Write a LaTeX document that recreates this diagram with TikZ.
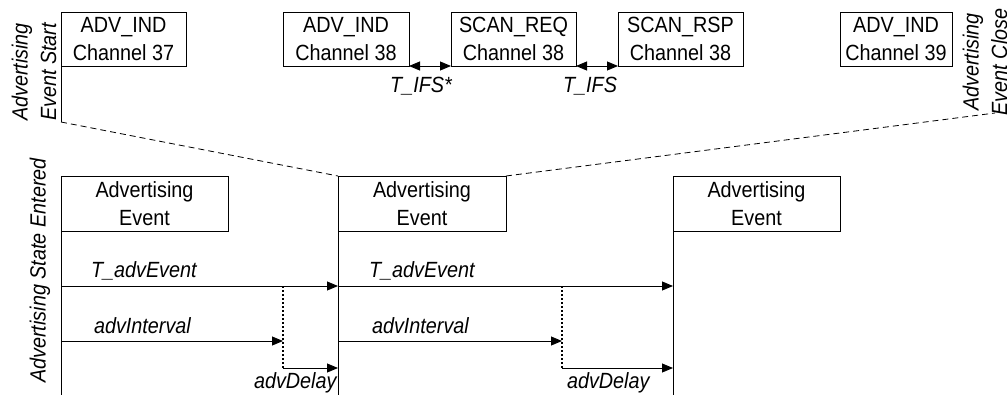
\documentclass[tikz,border=0pt]{standalone}
\usepackage{fontspec}
\setmainfont[FakeStretch=0.9]{Liberation Sans}
\usetikzlibrary{arrows.meta}
\begin{document}
\begin{tikzpicture}[x=1pt,y=-1pt,
  every node/.style={inner sep=0pt, outer sep=0pt},
  txt/.style={font=\fontsize{22}{28.5}\selectfont},
  itl/.style={font=\fontsize{22}{28.5}\selectfont\itshape},
  pkt/.style={draw, line width=0.9pt, txt, align=center, anchor=north west, minimum height=54pt},
  evbox/.style={draw, line width=0.9pt, txt, align=center, anchor=north west, minimum height=55pt},
  conn/.style={line width=0.9pt},
  arr/.style={conn, -{Triangle[length=11pt,width=9pt]}},
  darr/.style={conn, {Triangle[length=11pt,width=9pt]}-{Triangle[length=11pt,width=9pt]}},
  dotv/.style={line width=1.6pt, dash pattern=on 2pt off 2pt},
  dashl/.style={line width=0.8pt, dash pattern=on 6pt off 4pt},
]
\useasboundingbox (0,0) rectangle (1007,394);
\clip (0,0) rectangle (1007,394);

% top packets
\node[pkt, minimum width=125pt] (p1) at (61,12) {ADV\_IND\\Channel 37};
\node[pkt, minimum width=126pt] (p2) at (283,12) {ADV\_IND\\Channel 38};
\node[pkt, minimum width=125pt] (p3) at (451,12) {SCAN\_REQ\\Channel 38};
\node[pkt, minimum width=125pt] (p4) at (618,12) {SCAN\_RSP\\Channel 38};
\node[pkt, minimum width=112pt] (p5) at (840,12) {ADV\_IND\\Channel 39};

\draw[darr] (p2.south east) -- (p3.south west);
\draw[darr] (p3.south east) -- (p4.south west);
\node[itl, anchor=base] (tifs1) at (421,92) {T\_IFS*};
\node[itl, anchor=base] (tifs2) at (590,92) {T\_IFS};

\node[itl, rotate=90, align=center] (evstart) at (34,72) {Advertising\\Event Start};
\node[itl, rotate=90, align=center] (evclose) at (985,62) {Advertising\\Event Close};

\coordinate (s1) at (61,122);
\draw[conn] (p1.south west) -- (s1);

% advertising events
\node[evbox, minimum width=167pt] (e1) at (61,176) {Advertising\\Event};
\node[evbox, minimum width=168pt] (e2) at (338,176) {Advertising\\Event};
\node[evbox, minimum width=167pt] (e3) at (673,176) {Advertising\\Event};

\coordinate (c1) at (995,113);
\draw[dashl] (s1) -- (e2.north west);
\draw[dashl] (e2.north east) -- (c1);

\coordinate (b1) at (61,396);
\coordinate (b2) at (338,396);
\coordinate (b3) at (673,396);
\draw[conn] (e1.south west) -- (b1);
\draw[conn] (e2.south west) -- (b2);
\draw[conn] (e3.south west) -- (b3);

\node[itl, anchor=base, rotate=90] (state) at (45.5,270.5) {Advertising State Entered};

% timing rows
\coordinate (r1a) at (61,286);
\coordinate (r1b) at (338,286);
\coordinate (r1c) at (673,286);
\coordinate (i1a) at (61,341);
\coordinate (i1b) at (283,341);
\coordinate (i2a) at (338,341);
\coordinate (i2b) at (562,341);
\coordinate (d1t) at (283,286);
\coordinate (d1b) at (283,368);
\coordinate (d2t) at (562,286);
\coordinate (d2b) at (562,368);
\coordinate (y1b) at (338,368);
\coordinate (y2b) at (673,368);

\draw[arr] (r1a) -- (r1b);
\draw[arr] (r1b) -- (r1c);
\draw[arr] (i1a) -- (i1b);
\draw[arr] (i2a) -- (i2b);
\draw[dotv] (d1t) -- (d1b);
\draw[dotv] (d2t) -- (d2b);
\draw[arr] (d1b) -- (y1b);
\draw[arr] (d2b) -- (y2b);

\node[itl, anchor=base west] (t1) at (91,277) {T\_advEvent};
\node[itl, anchor=base west] (t2) at (369,277) {T\_advEvent};
\node[itl, anchor=base west] (a1) at (94,333) {advInterval};
\node[itl, anchor=base west] (a2) at (372,333) {advInterval};
\node[itl, anchor=base west] (dl1) at (254,388) {advDelay};
\node[itl, anchor=base west] (dl2) at (567,388) {advDelay};
\end{tikzpicture}
\end{document}
